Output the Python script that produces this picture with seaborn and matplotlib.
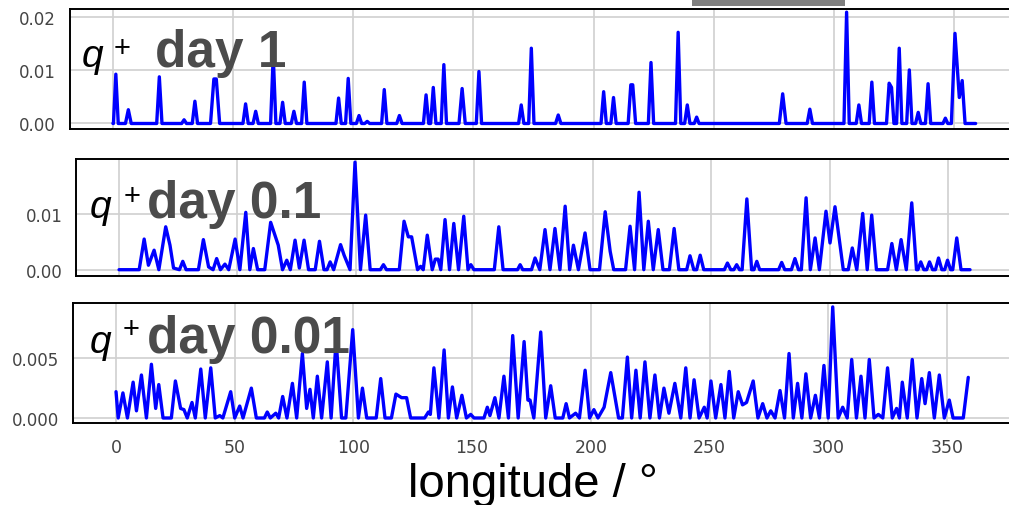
import matplotlib
matplotlib.use("Agg")
import matplotlib.pyplot as plt
from matplotlib.patches import Rectangle
import pandas as pd
import seaborn as sns

# longitude / q+ values (line vertices)
d1_lon = [
    0.0, 0.2, 1.2, 2.2,
    5.2, 6.4, 7.6,
    18.2, 19.3, 20.4,
    28.6, 29.6, 30.6,
    33.0, 34.1, 35.2,
    40.6, 42.0, 43.0, 44.4,
    54.1, 55.2, 56.3,
    58.3, 59.4, 60.5,
    65.6, 66.7, 67.8,
    69.5, 70.6, 71.7,
    74.2, 75.3, 76.4,
    78.5, 79.6, 80.7,
    92.8, 93.9, 95.0,
    96.8, 97.9, 99.0,
    101.3, 102.4, 103.5,
    104.8, 105.8, 106.8,
    111.8, 112.9, 114.0,
    118.1, 119.2, 120.3,
    129.2, 130.3, 131.4,
    132.2, 133.3, 134.4,
    136.6, 137.7, 138.8,
    144.0, 145.3, 146.6,
    151.2, 152.3, 153.4,
    168.8, 169.9, 171.0,
    173.0, 174.1, 175.2,
    184.2, 185.3, 186.4,
    203.1, 204.2, 205.3,
    207.2, 208.3, 209.4,
    214.4, 215.5, 216.3, 217.5,
    222.8, 223.9, 225.0,
    234.1, 235.2, 236.3,
    237.9, 239.0, 240.1,
    241.9, 242.9, 243.9,
    277.3, 278.7, 280.1,
    288.9, 290.0, 291.1,
    304.2, 305.3, 306.4,
    309.3, 310.4, 311.5,
    314.7, 315.8, 316.9,
    321.9, 323.0, 324.0, 325.0,
    326.1, 327.2, 328.3,
    330.3, 331.4, 332.5,
    334.0, 335.1, 336.2,
    338.1, 339.2, 340.3,
    345.4, 346.4, 347.4,
    348.9, 350.4, 352.2, 353.4, 354.6,
    359.0,
]
d1_val = [
    0, 0, .0093, 0,
    0, .0026, 0,
    0, .0088, 0,
    0, .0007, 0,
    0, .0042, 0,
    0, .0084, .0084, 0,
    0, .0037, 0,
    0, .0023, 0,
    0, .0128, 0,
    0, .0040, 0,
    0, .0023, 0,
    0, .0078, 0,
    0, .0048, 0,
    0, .0085, 0,
    0, .0015, 0,
    0, .0004, 0,
    0, .0064, 0,
    0, .0015, 0,
    0, .0054, 0,
    0, .0068, 0,
    0, .0111, 0,
    0, .0066, 0,
    0, .0098, 0,
    0, .0035, 0,
    0, .0142, 0,
    0, .0016, 0,
    0, .0060, 0,
    0, .0049, 0,
    0, .0073, .0073, 0,
    0, .0115, 0,
    0, .0172, 0,
    0, .0035, 0,
    0, .0012, 0,
    0, .0056, 0,
    0, .0027, 0,
    0, .0210, 0,
    0, .0035, 0,
    0, .0078, 0,
    0, .0076, .0068, 0,
    0, .0142, 0,
    0, .0101, 0,
    0, .0021, 0,
    0, .0075, 0,
    0, .0010, 0,
    0, .0170, .0049, .0081, 0,
    0,
]

d01_lon = [
    0.0, 8.5, 10.6, 12.4, 14.8, 16.8,
    19.7, 21.5, 23.0, 25.5, 26.9, 28.3,
    33.5, 35.6, 37.8, 39.7, 41.2, 42.8, 44.7, 46.3,
    49.0, 51.0, 53.5, 55.2, 56.7, 58.5,
    61.5, 64.0, 67.2, 69.0, 70.8, 72.3,
    74.3, 76.1, 78.1, 80.0, 82.8, 84.6, 86.5,
    87.8, 89.1, 90.6, 93.5, 95.0, 97.5,
    99.6, 101.9, 104.1, 106.0, 110.3, 111.6, 112.9,
    118.3, 120.3, 122.1, 123.5, 126.0, 127.3, 128.4,
    130.1, 132.2, 133.5, 134.7, 135.8, 137.6, 139.5,
    141.3, 143.3, 145.5, 147.3, 148.5, 149.8,
    158.4, 160.3, 162.1,
    168.2, 169.3, 170.4,
    174.1, 175.6, 177.6, 179.8, 181.9, 184.0, 186.1,
    188.3, 190.2, 191.8, 193.9, 196.7, 198.8,
    202.8, 205.2, 207.3, 208.8,
    213.8, 215.7, 217.6, 219.5, 221.5, 223.4, 225.5, 227.6, 229.6,
    232.3, 234.3, 236.3,
    239.6, 241.0, 242.6, 243.8, 245.3, 246.8,
    255.5, 256.8, 258.2, 259.5, 260.7, 261.9,
    263.0, 265.0, 267.0, 268.0, 269.2, 270.4,
    278.4, 279.7, 281.0,
    283.8, 285.3, 286.8,
    288.0, 290.0, 291.8, 293.8, 295.6, 298.4, 300.1, 302.2, 305.7,
    307.8, 309.5, 311.4, 313.9, 315.8, 317.7, 319.7,
    324.4, 326.2, 328.1, 330.1, 332.3, 334.6, 336.6,
    337.2, 338.4, 339.7, 340.9, 342.1, 343.4, 344.6, 345.9, 347.3, 348.5, 349.7, 351.0,
    351.9, 353.6, 355.4,
    359.2,
]
d01_val = [
    0, 0, .0055, .0008, .0035, 0,
    .0077, .0044, .0003, 0, .0015, 0,
    0, .0054, .0005, 0, .0020, 0, .0010, 0,
    .0055, 0, .0103, 0, .0038, 0,
    0, .0085, .0044, 0, .0017, 0,
    .0053, .0003, .0053, 0, 0, .0051, 0,
    0, .0014, 0, .0045, .0026, 0,
    .0193, 0, .0098, 0, 0, .0009, 0,
    0, .0087, .0059, .0059, 0, .0006, 0,
    .0062, 0, .0019, .0019, 0, .0090, 0,
    .0083, 0, .0096, 0, .0009, 0,
    0, .0077, 0,
    0, .0009, 0,
    0, .0021, 0, .0072, 0, .0074, 0,
    .0114, 0, .0044, 0, .0066, 0,
    0, .0104, .0033, 0,
    0, .0078, 0, .0139, 0, .0087, 0, .0072, 0,
    0, .0074, 0,
    0, .0025, 0, 0, .0026, 0,
    0, .0012, 0, 0, .0009, 0,
    0, .0127, 0, 0, .0015, 0,
    0, .0013, 0,
    0, .0020, 0,
    0, .0129, 0, .0057, 0, .0105, .0048, .0113, 0,
    0, .0039, 0, .0101, 0, .0098, 0,
    0, .0047, 0, .0054, 0, .0120, 0,
    0, .0014, 0, 0, .0014, 0, 0, .0021, 0, 0, .0017, 0,
    0, .0057, 0,
    0,
]

d001_lon = [
    0.0, 0.9, 2.9, 4.8, 7.2, 8.6, 10.7, 12.8, 14.9, 16.7, 18.0, 19.8,
    23.3, 25.0, 27.2, 28.6, 30.0, 32.0, 33.4, 35.7, 37.6, 39.9, 41.8, 43.7, 45.0,
    48.3, 50.0, 52.1, 53.5, 57.0, 59.1,
    62.5, 63.7, 65.0, 67.3, 68.5, 70.2, 72.0, 74.3, 76.1, 78.5, 80.3, 81.7, 83.1,
    84.8, 86.6, 89.0, 90.6, 92.7, 95.0, 96.8, 99.7, 102.1, 103.8, 105.6,
    109.6, 111.5, 113.3, 116.0, 117.9, 120.3, 122.4, 124.1,
    130.0, 131.6, 132.4, 133.9, 136.0, 138.2, 140.0, 141.7, 143.5, 145.7, 147.6, 149.4, 150.8,
    155.0, 156.4, 157.5, 159.6, 161.3, 163.4, 165.3, 167.1, 169.4, 171.9, 173.5, 174.4, 176.0,
    178.9, 181.0, 183.1, 185.0,
    188.2, 189.6, 191.0, 193.6, 195.2, 197.6, 199.5, 201.3, 203.0, 205.6, 208.4, 211.7,
    213.3, 215.4, 217.2, 219.0, 220.8, 222.8, 224.9, 227.0, 228.9, 230.8, 232.9, 235.4, 237.9,
    240.0, 241.8, 243.5, 245.6, 247.8, 249.0, 250.6, 252.6, 254.8, 256.5, 258.3, 260.2, 262.1,
    263.9, 265.6, 268.4, 270.4, 272.4, 274.2, 275.8, 277.6,
    279.7, 281.6, 283.5, 285.3, 287.1, 288.9, 290.6, 292.6, 294.6, 296.3, 298.2, 300.0, 301.9,
    304.2, 306.1, 308.0,
    309.9, 311.9, 313.8, 315.5, 317.3, 319.3, 321.1, 323.0, 325.0, 327.0, 328.8, 330.0, 331.2,
    333.3, 335.4, 337.4, 339.4, 340.8, 342.6, 344.7, 346.8, 348.9, 351.0, 352.6,
    356.9, 359.0,
]
d001_val = [
    .0022, 0, .0021, 0, .0030, .0006, .0036, 0, .0045, .0008, .0028, 0,
    0, .0031, .0008, .0007, 0, .0013, 0, .0041, 0, .0042, 0, .0002, 0,
    .0022, 0, .0010, 0, .0025, 0,
    0, .0005, 0, .0004, 0, .0018, 0, .0029, 0, .0054, .0008, .0024, 0,
    .0035, 0, .0047, 0, .0065, 0, 0, .0074, 0, .0025, 0,
    0, .0033, 0, 0, .0020, .0017, .0017, 0,
    0, .0005, .0003, .0042, 0, .0057, 0, .0026, 0, .0019, 0, .0003, 0,
    0, .0009, .0002, .0017, 0, .0035, 0, .0069, 0, .0064, .0015, .0015, 0,
    .0072, 0, .0027, 0,
    0, .0012, 0, .0004, 0, .0040, 0, .0007, 0, .0009, .0038, 0,
    0, .0051, 0, .0040, 0, .0047, 0, .0036, 0, .0025, .0004, .0029, 0,
    .0042, 0, .0032, 0, .0009, 0, .0031, 0, .0028, 0, .0039, 0, .0022,
    .0011, .0013, .0031, 0, .0012, 0, .0006, 0,
    .0023, 0, .0054, 0, .0029, 0, .0037, 0, .0019, 0, .0044, 0, .0093,
    0, .0009, 0,
    .0049, 0, .0035, 0, .0049, 0, .0003, 0, .0042, 0, .0008, 0, .0030,
    0, .0049, 0, .0033, .0012, .0038, 0, .0036, 0, .0015, 0,
    0, .0034,
]

panel_labels = ["day 1", "day 0.1", "day 0.01"]
y_ticks = [[0, 0.01, 0.02], [0, 0.01], [0, 0.005]]
y_ticklabels = [["0.00", "0.01", "0.02"], ["0.00", "0.01"], ["0.000", "0.005"]]
x_ticks = [0, 50, 100, 150, 200, 250, 300, 350]

sns.set_style("whitegrid")
plt.rcParams["font.family"] = ["DejaVu Sans"]

W, H = 1009, 506
fig = plt.figure(figsize=(W / 100, H / 100), dpi=100)


def px_axes(left, top, width, height):
    return fig.add_axes([left / W, 1 - (top + height) / H, width / W, height / H])


# panel boxes in pixels (left, top, width, height) and y ranges
boxes = [(69.7, 10, 949.2, 120), (76.4, 160, 935.8, 117), (73.3, 304, 937.7, 120)]
ylims = [(-0.00104, 0.0216), (-0.00113, 0.01987), (-0.00042, 0.00963)]
series = [(d1_lon, d1_val), (d01_lon, d01_val), (d001_lon, d001_val)]

axes = []
for i, (box, (lon, val)) in enumerate(zip(boxes, series)):
    ax = px_axes(*box)
    df = pd.DataFrame({"lon": lon, "q": val})
    sns.lineplot(data=df, x="lon", y="q", ax=ax, color="#0000ff",
                 linewidth=2.4, estimator=None, sort=False)
    ax.set_xlim(-18, 377)
    ax.set_ylim(*ylims[i])
    ax.set_xticks(x_ticks)
    ax.set_yticks(y_ticks[i])
    ax.set_yticklabels(y_ticklabels[i])
    ax.set_xlabel("")
    ax.set_ylabel("")
    ax.grid(True, color="#d0d0d0", linewidth=1.2)
    for s in ax.spines.values():
        s.set_color("black")
        s.set_linewidth(1.4)
    ax.tick_params(axis="both", length=0, labelsize=12, labelcolor="#444444")
    ax.tick_params(axis="y", pad=10)
    ax.tick_params(axis="x", pad=11, labelsize=12.5)
    if i < 2:
        ax.tick_params(axis="x", labelbottom=False)
    axes.append(ax)

# big panel labels: italic q, superscript +, bold grey "day ..."
label_pos = [(82, 67, 114, 57, 155), (90, 218, 124, 205, 147), (90, 353, 123, 338, 147)]
for (qx, base, px_, py_, dx), lab in zip(label_pos, panel_labels):
    fig.text(qx / W, 1 - base / H, "q", fontsize=28, style="italic",
             family="Liberation Sans", color="black", va="baseline", ha="left")
    fig.text(px_ / W, 1 - py_ / H, "+", fontsize=21,
             family="Liberation Sans", color="black", va="baseline", ha="left")
    fig.text(dx / W, 1 - base / H, lab, fontsize=37, weight="bold",
             family="Liberation Sans", color="#4b4b4b", va="baseline", ha="left")

fig.text(533 / W, 1 - 497 / H, "longitude / °", fontsize=34,
         family="Liberation Sans", color="black", va="baseline", ha="center")

# grey bar at the top edge
fig.add_artist(Rectangle((692 / W, 1 - 7 / H), 153 / W, 7 / H,
                         transform=fig.transFigure, color="#808080", lw=0))

fig.savefig("out.png", dpi=100)
